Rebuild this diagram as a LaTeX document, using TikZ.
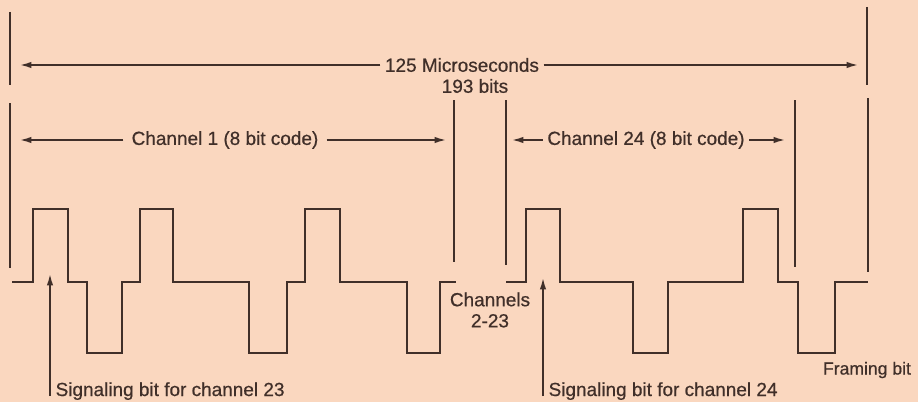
\documentclass[tikz,border=0pt]{standalone}
\usepackage{fontspec}
\setmainfont{Liberation Sans}[FakeBold=0.6]
\usetikzlibrary{arrows.meta,positioning}
\definecolor{paper}{RGB}{250,215,191}
\definecolor{ink}{RGB}{64,47,41}

\begin{document}
\begin{tikzpicture}[x=0.02cm,y=-0.02cm,color=ink,
  font=\fontsize{10.8}{12}\selectfont,
  limit/.style={line width=1.3pt},
  dim/.style={line width=1.2pt,-{Latex[length=7pt,width=3.6pt]}},
  wave/.style={line width=1.6pt,line join=miter},
  lbl/.style={inner ysep=2pt,inner xsep=2.5pt}]
\fill[paper] (0,0) rectangle (918,402);
\useasboundingbox (0,0) rectangle (918,402);
% frame limits
\draw[limit] (10,12) -- (10,85);
\draw[limit] (867,7) -- (867,85);
\draw[limit] (10,103) -- (10,268);
\draw[limit] (454,100) -- (454,262);
\draw[limit] (506,100) -- (506,265);
\draw[limit] (795,100) -- (795,267);
\draw[limit] (868,98) -- (868,272);
% whole frame
\node[lbl] (frame) at (462,65) {125 Microseconds};
\node[lbl] (bits) at (475,86) {193 bits};
\coordinate (frameL) at (19,65);
\coordinate (frameR) at (859,65);
\draw[dim] (frame.west) -- (frameL);
\draw[dim] (frame.east) -- (frameR);
% channel 1
\node[lbl,inner xsep=4.5pt] (ch1) at (225,140) {Channel 1 (8 bit code)};
\coordinate (ch1L) at (19,140);
\coordinate (ch1R) at (447,140);
\draw[dim] (ch1.west) -- (ch1L);
\draw[dim] (ch1.east) -- (ch1R);
% channel 24
\node[lbl] (ch24) at (646,140) {Channel 24 (8 bit code)};
\coordinate (ch24L) at (511,140);
\coordinate (ch24R) at (786,140);
\draw[dim] (ch24.west) -- (ch24L);
\draw[dim] (ch24.east) -- (ch24R);
% bit streams
\draw[wave] (12,282) -| (33,209) -| (68,282) -| (87,353) -| (122,282)
  -| (140,209) -| (173,282) -| (249,353) -| (287,282) -| (305,209)
  -| (340,282) -| (407,353) -| (440,282) -- (456,282);
\draw[wave] (506,282) -| (526,209) -| (560,282) -| (633,353) -| (668,282)
  -| (743,209) -| (778,282) -| (798,353) -| (835,282) -- (868,282);
% labels below
\node[align=center] (gap) at (490,310) {Channels\\2-23};
\node[font=\fontsize{10}{11}\selectfont] (fbit) at (867,370) {Framing bit};
\coordinate (sigA) at (50,273);
\coordinate (sigB) at (543,277);
\node[anchor=base west,inner xsep=3pt] (sig23) at (50,396) {Signaling bit for channel 23};
\node[anchor=base west,inner xsep=3pt] (sig24) at (543,396) {Signaling bit for channel 24};
\draw[dim] (sig23.base west) -- (sigA);
\draw[dim] (sig24.base west) -- (sigB);
\end{tikzpicture}
\end{document}
